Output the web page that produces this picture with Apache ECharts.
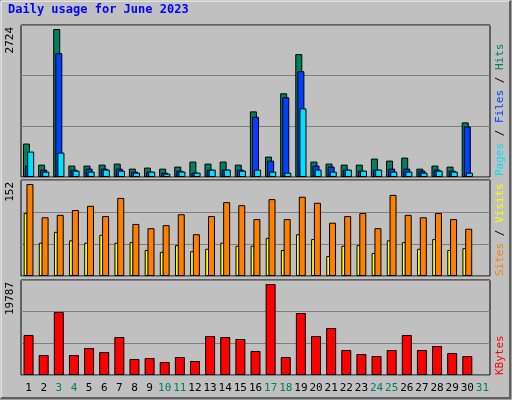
<!DOCTYPE html>
<html><head><meta charset="utf-8">
<script src="https://cdn.jsdelivr.net/npm/echarts@6/dist/echarts.min.js"></script>
<style>html,body{margin:0;padding:0;background:#C0C0C0}#c{width:512px;height:400px}</style>
</head><body><div id="c"></div>
<script>
const days = ['1','2','3','4','5','6','7','8','9','10','11','12','13','14','15','16','17','18','19','20','21','22','23','24','25','26','27','28','29','30','31'];
const weekend = [3,4,10,11,17,18,24,25,31];
const hits  = [616,228,2724,210,210,228,247,154,173,154,191,284,247,284,228,1208,376,1541,2262,284,247,228,228,339,302,357,154,210,191,1005,null];
const files = [210,136,2280,136,154,154,154,99,99,80,117,80,136,136,136,1109,302,1467,1948,210,191,136,117,136,154,154,117,136,117,931,null];
const pages = [468,99,450,117,99,136,117,80,99,62,99,80,136,136,117,136,99,80,1263,136,99,136,117,136,99,99,80,117,99,80,null];
const visits= [152,97,101,109,116,99,129,86,79,84,102,69,99,122,117,94,127,94,131,121,88,99,104,79,134,101,97,104,94,78,null];
const sites = [104,55,73,59,55,68,55,56,43,40,51,41,45,55,50,50,63,43,69,61,33,50,51,38,59,56,45,61,43,46,null];
const kbytes= [8698,4349,13699,4349,5871,5001,8263,3479,3696,2827,3914,3044,8480,8263,7828,5219,19787,3914,13481,8480,10220,5436,4566,4131,5436,8698,5436,6306,4784,4131,null];
const maxLabels = ['2724','152','19787'];

const font = 'DejaVu Sans Mono';
const grids = [
  {left:21,right:22,top:25,height:152},
  {left:21,right:22,top:180,height:96},
  {left:21,right:22,top:280,height:95}
].map(g=>Object.assign(g,{show:true,backgroundColor:'#C0C0C0',borderColor:'#000',borderWidth:1}));
const maxes=[2798,158.6,20657];
const xAxes = grids.map((g,i)=>({type:'category',gridIndex:i,data:days,
  axisLine:{show:false},axisTick:{show:false},
  axisLabel: i===2 ? {show:true,margin:8,fontFamily:font,fontSize:11,interval:0,
     formatter:(v)=> weekend.includes(+v)?'{w|'+v+'}':'{n|'+v+'}',
     rich:{w:{color:'#00805C',fontFamily:font,fontSize:11},n:{color:'#000',fontFamily:font,fontSize:11}}} : {show:false}}));
const yAxes = grids.map((g,i)=>({type:'value',gridIndex:i,min:0,max:maxes[i],interval:maxes[i]/3,
  axisLabel:{show:false},axisLine:{show:false},axisTick:{show:false},
  splitLine:{show:true,lineStyle:{color:'#808080',width:1}}}));
const bs=(c)=>({color:c,borderColor:'#000',borderWidth:1});
const series=[
  {type:'bar',xAxisIndex:0,yAxisIndex:0,data:hits,barWidth:7,barGap:'-70%',itemStyle:bs('#00805C'),silent:true},
  {type:'bar',xAxisIndex:0,yAxisIndex:0,data:files,barWidth:7,barGap:'-70%',itemStyle:bs('#0040FF'),silent:true},
  {type:'bar',xAxisIndex:0,yAxisIndex:0,data:pages,barWidth:7,barGap:'-70%',itemStyle:bs('#00E0FF'),silent:true},
  {type:'bar',xAxisIndex:1,yAxisIndex:1,data:sites,barWidth:4,barGap:'-30%',itemStyle:bs('#FFFF00'),silent:true},
  {type:'bar',xAxisIndex:1,yAxisIndex:1,data:visits,barWidth:7,barGap:'-30%',itemStyle:bs('#FF8000'),silent:true},
  {type:'bar',xAxisIndex:2,yAxisIndex:2,data:kbytes,barWidth:10,itemStyle:bs('#FF0000'),silent:true}
];
const yl=[25,180,280];
const graphic=[
  {type:'rect',shape:{x:0,y:0,width:511,height:399},style:{fill:'none',stroke:'#808080',lineWidth:1},z:-1},
  {type:'polyline',shape:{points:[[1,398],[1,1],[510,1]]},style:{stroke:'#fff',fill:'none',lineWidth:1}},
  {type:'polyline',shape:{points:[[510,1],[510,398],[1,398]]},style:{stroke:'#606060',fill:'none',lineWidth:2}},
  {type:'text',left:8,top:4,style:{text:'Daily usage for June 2023',font:'bold 12px '+font,fill:'#0000FF'}},
  ...maxLabels.map((t,i)=>({type:'text',x:10,y:yl[i]+2,rotation:Math.PI/2,style:{text:t,font:'11px '+font,fill:'#000',align:'right',verticalAlign:'middle'}})),
  {type:'text',x:500,y:176,rotation:Math.PI/2,style:{text:'{p|Pages} {s|/} {f|Files} {s|/} {h|Hits}',font:'11px '+font,align:'left',verticalAlign:'middle',
     rich:{p:{fill:'#00E0FF',font:'11px '+font},f:{fill:'#0040FF',font:'11px '+font},h:{fill:'#00805C',font:'11px '+font},s:{fill:'#000',font:'11px '+font}}}},
  {type:'text',x:500,y:276,rotation:Math.PI/2,style:{text:'{o|Sites} {s|/} {y|Visits}',font:'11px '+font,align:'left',verticalAlign:'middle',
     rich:{o:{fill:'#FF8000',font:'11px '+font},y:{fill:'#FFFF00',font:'11px '+font},s:{fill:'#000',font:'11px '+font}}}},
  {type:'text',x:500,y:375,rotation:Math.PI/2,style:{text:'KBytes',font:'11px '+font,fill:'#FF0000',align:'left',verticalAlign:'middle'}}
];
const chart=echarts.init(document.getElementById('c'));
chart.setOption({animation:false,backgroundColor:'#C0C0C0',grid:grids,xAxis:xAxes,yAxis:yAxes,series,graphic});
</script></body></html>
